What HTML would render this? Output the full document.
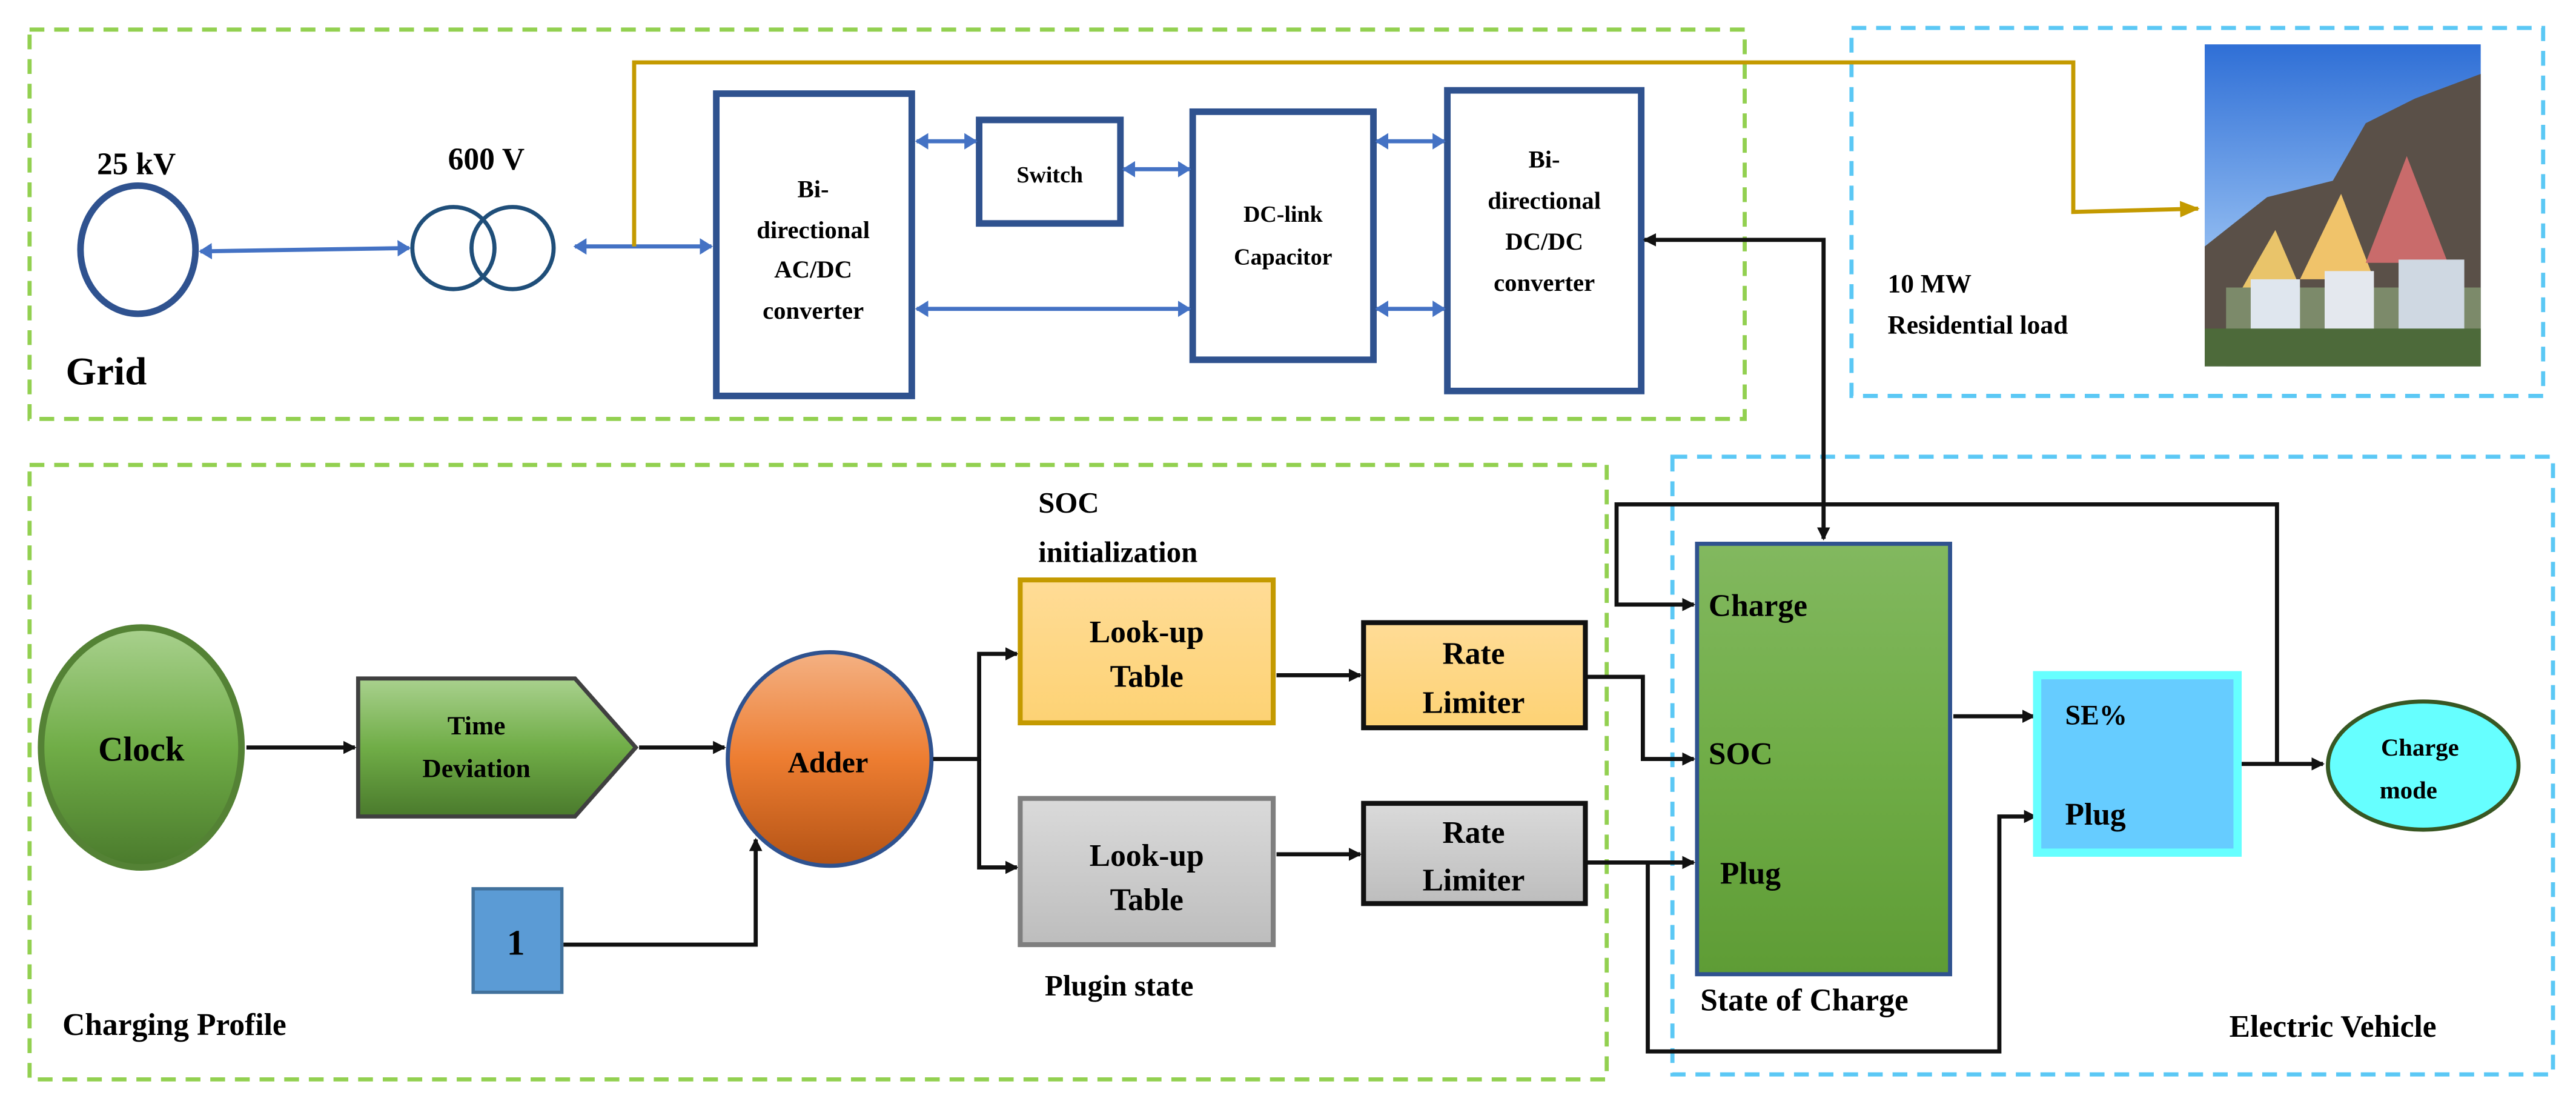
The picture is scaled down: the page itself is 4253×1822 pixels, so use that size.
<!DOCTYPE html>
<html><head><meta charset="utf-8"><style>
html,body{margin:0;padding:0;background:#fff;}
svg{display:block;}
text{font-family:"Liberation Serif",serif;font-weight:bold;fill:#000;}
</style></head><body>
<svg width="4253" height="1822" viewBox="0 0 1568 672" preserveAspectRatio="none" xmlns="http://www.w3.org/2000/svg">
<defs>
<marker id="ab" markerWidth="8" markerHeight="8" refX="7" refY="4" orient="auto" markerUnits="userSpaceOnUse"><path d="M0,0 L8,4 L0,8 z" fill="#111"/></marker>
<marker id="bl" markerWidth="8" markerHeight="10" refX="7" refY="5" orient="auto" markerUnits="userSpaceOnUse"><path d="M0,0 L8,5 L0,10 z" fill="#4472c4"/></marker>
<marker id="bls" markerWidth="8" markerHeight="10" refX="1" refY="5" orient="auto" markerUnits="userSpaceOnUse"><path d="M8,0 L0,5 L8,10 z" fill="#4472c4"/></marker>
<marker id="gd" markerWidth="12" markerHeight="10" refX="11" refY="5" orient="auto" markerUnits="userSpaceOnUse"><path d="M0,0 L12,5 L0,10 z" fill="#c49a00"/></marker>
<marker id="abs" markerWidth="8" markerHeight="8" refX="1" refY="4" orient="auto" markerUnits="userSpaceOnUse"><path d="M8,0 L0,4 L8,8 z" fill="#111"/></marker>
<linearGradient id="gclock" x1="0" y1="0" x2="0" y2="1"><stop offset="0" stop-color="#a9d18e"/><stop offset="0.5" stop-color="#70ad47"/><stop offset="1" stop-color="#4a7a2c"/></linearGradient>
<linearGradient id="gadd" x1="0" y1="0" x2="0" y2="1"><stop offset="0" stop-color="#f4b183"/><stop offset="0.5" stop-color="#ed7d31"/><stop offset="1" stop-color="#b45315"/></linearGradient>
<linearGradient id="gsoc" x1="0" y1="0" x2="0" y2="1"><stop offset="0" stop-color="#82b85f"/><stop offset="0.5" stop-color="#70ad47"/><stop offset="1" stop-color="#5e9c35"/></linearGradient>
<linearGradient id="gyel" x1="0" y1="0" x2="0" y2="1"><stop offset="0" stop-color="#ffdc96"/><stop offset="1" stop-color="#fdd274"/></linearGradient>
<linearGradient id="ggr" x1="0" y1="0" x2="0" y2="1"><stop offset="0" stop-color="#dadada"/><stop offset="1" stop-color="#bdbdbd"/></linearGradient>
<linearGradient id="gsky" x1="0" y1="0" x2="0" y2="1"><stop offset="0" stop-color="#2f6fd6"/><stop offset="0.6" stop-color="#8ab6ef"/><stop offset="1" stop-color="#c9dcf2"/></linearGradient>
</defs>

<!-- dashed boxes -->
<rect x="18" y="18" width="1044" height="237" fill="none" stroke="#92d050" stroke-width="2.5" stroke-dasharray="9,6"/>
<rect x="1127" y="17" width="421" height="224" fill="none" stroke="#5bc8f5" stroke-width="2.5" stroke-dasharray="9,6"/>
<rect x="18" y="283" width="960" height="374" fill="none" stroke="#92d050" stroke-width="2.5" stroke-dasharray="9,6"/>
<rect x="1018" y="278" width="536" height="376" fill="none" stroke="#5bc8f5" stroke-width="2.5" stroke-dasharray="9,6"/>

<!-- Grid section -->
<text x="83" y="106" font-size="19" text-anchor="middle">25 kV</text>
<text x="296" y="103" font-size="19" text-anchor="middle">600 V</text>
<ellipse cx="84" cy="152" rx="35" ry="39" fill="none" stroke="#2f528f" stroke-width="4"/>
<circle cx="276" cy="151" r="25" fill="none" stroke="#1f4e79" stroke-width="2.5"/>
<circle cx="312" cy="151" r="25" fill="none" stroke="#1f4e79" stroke-width="2.5"/>
<text x="40" y="234" font-size="24">Grid</text>
<line x1="122" y1="153" x2="249" y2="151" stroke="#4472c4" stroke-width="2.5" marker-end="url(#bl)" marker-start="url(#bls)"/>
<line x1="350" y1="150" x2="433" y2="150" stroke="#4472c4" stroke-width="2.5" marker-end="url(#bl)" marker-start="url(#bls)"/>
<polyline points="386,150 386,38 1262,38 1262,129 1338,127" fill="none" stroke="#c49a00" stroke-width="2.5" marker-end="url(#gd)"/>

<rect x="436" y="57" width="119" height="184" fill="#fff" stroke="#2f528f" stroke-width="4"/>
<g font-size="15" text-anchor="middle"><text x="495" y="120">Bi-</text><text x="495" y="145">directional</text><text x="495" y="169">AC/DC</text><text x="495" y="194">converter</text></g>
<rect x="596" y="73" width="86" height="63" fill="#fff" stroke="#2f528f" stroke-width="4"/>
<text x="639" y="111" font-size="14" text-anchor="middle">Switch</text>
<rect x="726" y="68" width="110" height="151" fill="#fff" stroke="#2f528f" stroke-width="4"/>
<g font-size="14" text-anchor="middle"><text x="781" y="135">DC-link</text><text x="781" y="161">Capacitor</text></g>
<rect x="881" y="55" width="118" height="183" fill="#fff" stroke="#2f528f" stroke-width="4"/>
<g font-size="15" text-anchor="middle"><text x="940" y="102">Bi-</text><text x="940" y="127">directional</text><text x="940" y="152">DC/DC</text><text x="940" y="177">converter</text></g>
<g stroke="#4472c4" stroke-width="2.5" marker-end="url(#bl)" marker-start="url(#bls)">
<line x1="558" y1="86" x2="594" y2="86"/>
<line x1="684" y1="103" x2="724" y2="103"/>
<line x1="558" y1="188" x2="724" y2="188"/>
<line x1="838" y1="86" x2="879" y2="86"/>
<line x1="838" y1="188" x2="879" y2="188"/>
</g>
<polyline points="1110,328 1110,146 1001,146" fill="none" stroke="#111" stroke-width="2.5" marker-end="url(#ab)" marker-start="url(#abs)"/>

<!-- residential -->
<text x="1149" y="178" font-size="16">10 MW</text>
<text x="1149" y="203" font-size="16">Residential load</text>
<rect x="1342" y="27" width="168" height="196" fill="url(#gsky)"/>
<polygon points="1342,150 1380,120 1420,110 1440,75 1470,60 1510,45 1510,223 1342,223" fill="#5a5048"/>
<polygon points="1365,175 1385,140 1400,175" fill="#e9c46a"/>
<polygon points="1400,170 1425,118 1445,170" fill="#f0c36a"/>
<polygon points="1440,160 1465,95 1490,160" fill="#c96b6b"/>
<rect x="1355" y="175" width="155" height="48" fill="#7c8a6a"/>
<rect x="1370" y="170" width="30" height="40" fill="#dfe6ee"/>
<rect x="1415" y="165" width="30" height="45" fill="#e4e8ee"/>
<rect x="1460" y="158" width="40" height="55" fill="#cfd8e2"/>
<rect x="1342" y="200" width="168" height="23" fill="#4d6a3a"/>

<!-- Charging profile -->
<ellipse cx="86" cy="455" rx="61" ry="73" fill="url(#gclock)" stroke="#548235" stroke-width="4"/>
<text x="86" y="463" font-size="21" text-anchor="middle">Clock</text>
<polygon points="218,413 350,413 387,455 350,497 218,497" fill="url(#gclock)" stroke="#404040" stroke-width="2.5"/>
<g font-size="16" text-anchor="middle"><text x="290" y="447">Time</text><text x="290" y="473">Deviation</text></g>
<ellipse cx="505" cy="462" rx="62" ry="65" fill="url(#gadd)" stroke="#2f528f" stroke-width="2.5"/>
<text x="504" y="470" font-size="18" text-anchor="middle">Adder</text>
<rect x="288" y="541" width="54" height="63" fill="#5b9bd5" stroke="#41719c" stroke-width="2"/>
<text x="314" y="581" font-size="22" text-anchor="middle">1</text>
<g fill="none" stroke="#111" stroke-width="2.5" marker-end="url(#ab)">
<line x1="150" y1="455" x2="216" y2="455"/>
<line x1="389" y1="455" x2="441" y2="455"/>
<polyline points="343,575 460,575 460,511"/>
<polyline points="568,462 596,462 596,398 619,398"/>
<polyline points="596,462 596,528 619,528"/>
<line x1="777" y1="411" x2="828" y2="411"/>
<line x1="777" y1="520" x2="828" y2="520"/>
<polyline points="966,412 1000,412 1000,462 1031,462"/>
<line x1="966" y1="525" x2="1031" y2="525"/>
<polyline points="1003,525 1003,640 1217,640 1217,497 1239,497"/>
<line x1="1189" y1="436" x2="1238" y2="436"/>
<line x1="1364" y1="465" x2="1414" y2="465"/>
<polyline points="1386,465 1386,307 984,307 984,368 1031,368" marker-end="url(#ab)"/>
</g>
<text x="632" y="312" font-size="18">SOC</text>
<text x="632" y="342" font-size="18">initialization</text>
<rect x="621" y="353" width="154" height="87" fill="url(#gyel)" stroke="#c49a00" stroke-width="3"/>
<g font-size="19" text-anchor="middle"><text x="698" y="391">Look-up</text><text x="698" y="418">Table</text></g>
<rect x="830" y="379" width="135" height="64" fill="url(#gyel)" stroke="#111" stroke-width="3"/>
<g font-size="19" text-anchor="middle"><text x="897" y="404">Rate</text><text x="897" y="434">Limiter</text></g>
<rect x="621" y="486" width="154" height="89" fill="url(#ggr)" stroke="#7f7f7f" stroke-width="3"/>
<g font-size="19" text-anchor="middle"><text x="698" y="527">Look-up</text><text x="698" y="554">Table</text></g>
<rect x="830" y="489" width="135" height="61" fill="url(#ggr)" stroke="#111" stroke-width="3"/>
<g font-size="19" text-anchor="middle"><text x="897" y="513">Rate</text><text x="897" y="542">Limiter</text></g>
<text x="636" y="606" font-size="18">Plugin state</text>
<text x="38" y="630" font-size="19">Charging Profile</text>

<!-- EV -->
<rect x="1033" y="331" width="154" height="262" fill="url(#gsoc)" stroke="#2f528f" stroke-width="2.5"/>
<text x="1040" y="375" font-size="19">Charge</text>
<text x="1040" y="465" font-size="19">SOC</text>
<text x="1047" y="538" font-size="19">Plug</text>
<text x="1035" y="615" font-size="19">State of Charge</text>
<rect x="1240" y="411" width="122" height="108" fill="#66ccff" stroke="#66ffff" stroke-width="5"/>
<text x="1257" y="441" font-size="17">SE%</text>
<text x="1257" y="502" font-size="19">Plug</text>
<ellipse cx="1475" cy="466" rx="58" ry="39" fill="#66ffff" stroke="#385723" stroke-width="2.5"/>
<g font-size="15" text-anchor="middle"><text x="1473" y="460">Charge</text><text x="1466" y="486">mode</text></g>
<text x="1357" y="631" font-size="19">Electric Vehicle</text>
</svg>
</body></html>
